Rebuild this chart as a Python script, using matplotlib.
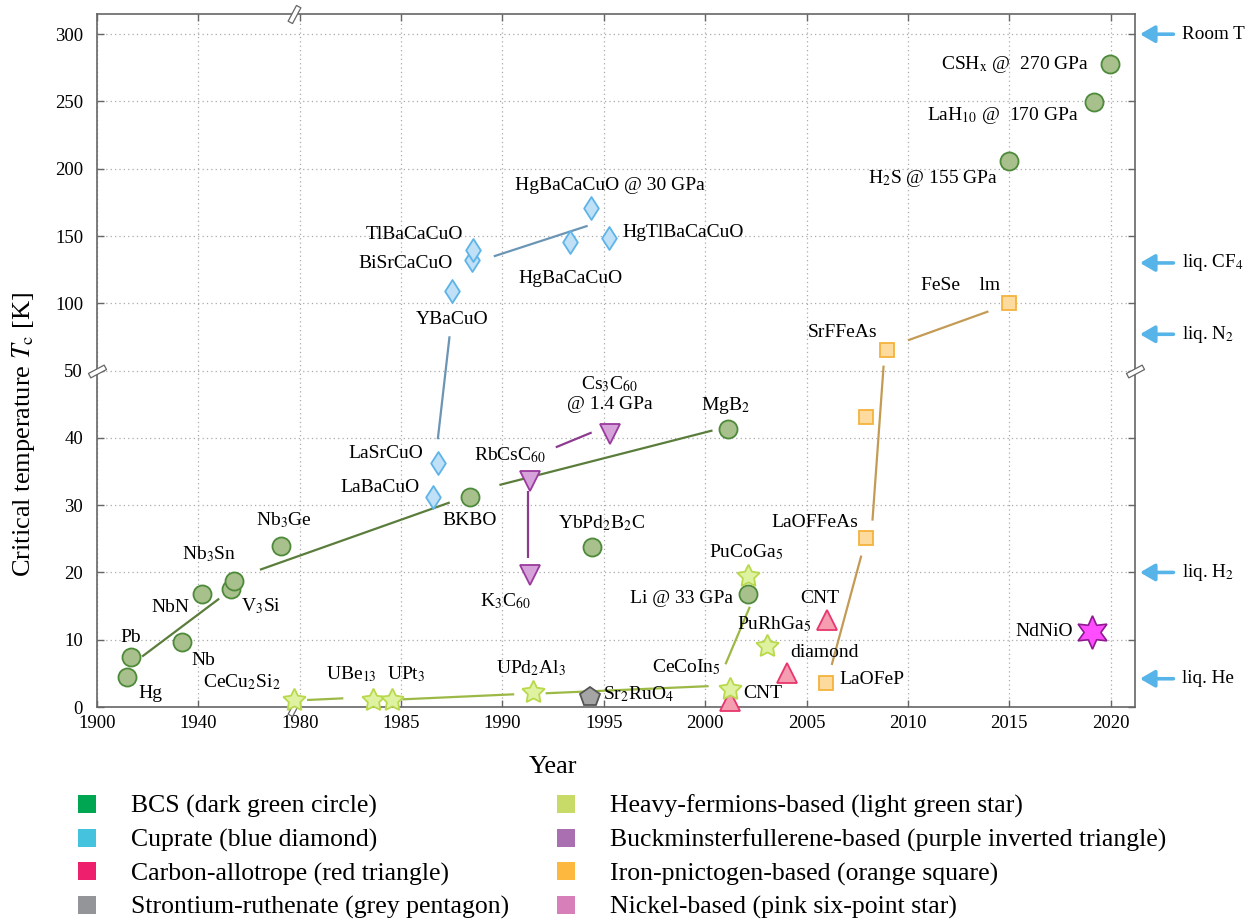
import numpy as np
import matplotlib
matplotlib.use('Agg')
import matplotlib.pyplot as plt
from matplotlib.patches import Patch
from matplotlib.path import Path
import matplotlib.transforms as mtransforms

plt.rcParams['font.family'] = ['Liberation Serif', 'DejaVu Serif']
plt.rcParams['mathtext.fontset'] = 'stix'

# ---------------- data ----------------
bcs_names = ['Hg', 'Pb', 'Nb', 'NbN', 'V$_3$Si', 'Nb$_3$Sn', 'Nb$_3$Ge', 'BKBO', 'MgB$_2$',
             'YbPd$_2$B$_2$C', 'Li @ 33 GPa', 'H$_2$S @ 155 GPa', 'LaH$_{10}$ @  170 GPa',
             'CSH$_\\mathrm{x}$ @  270 GPa']
bcs_year = [1911.9, 1913.3, 1933.4, 1941.6, 1952.8, 1954.0, 1972.5, 1988.4, 2001.1,
            1994.4, 2002.1, 2015.0, 2019.2, 2019.95]
bcs_tc = [4.5, 7.5, 9.7, 16.8, 17.6, 18.8, 23.9, 31.2, 41.3, 23.8, 16.8, 206, 249.5, 277.7]

cup_names = ['LaBaCuO', 'LaSrCuO', 'YBaCuO', 'BiSrCaCuO', 'TlBaCaCuO', 'HgBaCaCuO',
             'HgBaCaCuO @ 30 GPa', 'HgTlBaCaCuO']
cup_year = [1986.55, 1986.8, 1987.5, 1988.5, 1988.55, 1993.35, 1994.37, 1995.26]
cup_tc = [31.2, 36.2, 109, 132.4, 139.8, 145.2, 170.5, 148.5]

car_names = ['CNT', 'diamond', 'CNT']
car_year = [2001.2, 2004.05, 2006.0]
car_tc = [0.9, 5.1, 12.9]

sr_names = ['Sr$_2$RuO$_4$']
sr_year = [1994.33]
sr_tc = [1.5]

hf_names = ['CeCu$_2$Si$_2$', 'UBe$_{13}$', 'UPt$_3$', 'UPd$_2$Al$_3$', 'CeCoIn$_5$',
            'PuCoGa$_5$', 'PuRhGa$_5$']
hf_year = [1977.9, 1983.6, 1984.55, 1991.5, 2001.2, 2002.1, 2003.05]
hf_tc = [1.0, 1.0, 1.0, 2.2, 2.7, 19.5, 9.1]

ful_names = ['K$_3$C$_{60}$', 'RbCsC$_{60}$', 'Cs$_3$C$_{60}$\n@ 1.4 GPa']
ful_year = [1991.38, 1991.38, 1995.3]
ful_tc = [19.6, 33.6, 40.6]

fe_names = ['LaOFeP', 'LaOFFeAs', '', 'SrFFeAs', 'FeSe    lm']
fe_year = [2005.95, 2007.95, 2007.95, 2008.95, 2015.0]
fe_tc = [3.6, 25.1, 43.1, 65.6, 100.3]

ni_names = ['NdNiO']
ni_year = [2019.1]
ni_tc = [11.2]

# trend segments: (year0, tc0, year1, tc1)
bcs_trend = [(1917.8, 7.5, 1948.2, 16.1), (1964.3, 20.4, 1987.4, 30.4), (1989.85, 33.0, 2000.36, 41.1)]
cup_trend = [(1986.81, 39.8, 1987.39, 75.5), (1989.57, 134.9, 1994.2, 157.6)]
ful_trend = [(1991.28, 32.1, 1991.28, 22.1), (1992.63, 38.6, 1994.4, 40.8)]
hf_trend = [(1980.36, 1.04, 1982.15, 1.29), (1985.06, 1.14, 1990.58, 1.89),
            (1992.13, 2.04, 2000.17, 3.1), (2001.0, 6.35, 2002.2, 14.9)]
fe_trend = [(2006.24, 6.25, 2007.7, 22.5), (2008.25, 27.7, 2008.8, 53.7), (2010.0, 72.5, 2013.97, 94.0)]

ref_names = ['Room T', 'liq. CF$_4$', 'liq. N$_2$', 'liq. H$_2$', 'liq. He']
ref_tc = [300, 130, 77, 20, 4.2]

x_ticks = [1900, 1940, 1980, 1985, 1990, 1995, 2000, 2005, 2010, 2015, 2020]
y_ticks = [0, 10, 20, 30, 40, 50, 100, 150, 200, 250, 300]

legend_left = ['BCS (dark green circle)', 'Cuprate (blue diamond)',
               'Carbon-allotrope (red triangle)', 'Strontium-ruthenate (grey pentagon)']
legend_left_colors = ['#00a651', '#45c3de', '#ee1f6c', '#949599']
legend_right = ['Heavy-fermions-based (light green star)',
                'Buckminsterfullerene-based (purple inverted triangle)',
                'Iron-pnictogen-based (orange square)', 'Nickel-based (pink six-point star)']
legend_right_colors = ['#c8da68', '#a96fb0', '#fdb93f', '#d67fb9']

# label offsets in pixels (right, down)
bcs_off = [(23, 17), (0, -19), (22, 19), (-32, 14), (30, 18), (-25, -26), (3, -26), (0, 23),
           (-2, -24), (10, -24), (-66, 5), (-76, 18), (-92, 13), (-95, 0)]
cup_off = [(-53, -10), (-52, -10), (0, 28), (-67, 4), (-59, -15), (0, 36), (19, -23), (74, -6)]
car_off = [(33, -7), (37, -20), (-7, -22)]
sr_off = [(48, -3)]
hf_off = [(-53, -18), (-21, -26), (14, -26), (-2, -24), (-43, -22), (-2, -24), (7, -22)]
ful_off = [(-25, 26), (-20, -26), (0, -40)]
fe_off = [(46, -3), (-52, -16), (0, 0), (-44, -17), (-49, -17)]
ni_off = [(-48, 0)]

# ---------------- scales ----------------
def fx(x):
    x = np.asarray(x, dtype=float)
    return np.where(x < 1980, 1980 + (x - 1980) / 8.0, x)

def ix(u):
    u = np.asarray(u, dtype=float)
    return np.where(u < 1980, 1980 + (u - 1980) * 8.0, u)

def fy(y):
    y = np.asarray(y, dtype=float)
    return np.where(y > 50, 50 + (y - 50) / 5.0, y)

def iy(v):
    v = np.asarray(v, dtype=float)
    return np.where(v > 50, 50 + (v - 50) * 5.0, v)

fig = plt.figure(figsize=(12.49, 9.23), dpi=100)
ax = fig.add_axes([97 / 1249, 1 - 707 / 923, (1135 - 97) / 1249, (707 - 14) / 923])
ax.set_xscale('function', functions=(fx, ix))
ax.set_yscale('function', functions=(fy, iy))
ax.set_xlim(1900, 2021.2)
ax.set_ylim(0, 315)
ax.set_xticks(x_ticks)
ax.set_xticklabels([str(t) for t in x_ticks])
ax.set_yticks(y_ticks)
ax.set_yticklabels([str(t) for t in y_ticks])
ax.minorticks_off()
ax.grid(True, linestyle=(0, (1, 2.5)), color='#aaaaaa', linewidth=0.9)
ax.set_axisbelow(True)
for s in ax.spines.values():
    s.set_color('#666666')
    s.set_linewidth(1.2)
ax.tick_params(direction='in', length=5, width=1.0, color='#666666', top=True, right=True,
               labelsize=13.5)
ax.tick_params(axis='x', pad=6)
ax.tick_params(axis='y', pad=10)

# trend lines
def draw_trend(segs, color):
    for (x0, y0, x1, y1) in segs:
        ax.plot([x0, x1], [y0, y1], color=color, lw=1.6, solid_capstyle='butt', zorder=2)

draw_trend(bcs_trend, '#5b7d3c')
draw_trend(cup_trend, '#6b95b5')
draw_trend(ful_trend, '#8c3b8e')
draw_trend(hf_trend, '#9cb945')
draw_trend(fe_trend, '#c39b55')

hexagram = (6, 1, 0)
fat_star = (5, 1, 0)
wide_diamond = Path([(0, 1), (0.64, 0), (0, -1), (-0.64, 0), (0, 1)],
                    [Path.MOVETO, Path.LINETO, Path.LINETO, Path.LINETO, Path.CLOSEPOLY])

def draw_series(years, tcs, names, offs, marker, ms, fc, ec, mew=1.3):
    ax.plot(years, tcs, linestyle='none', marker=marker, ms=ms, mfc=fc, mec=ec, mew=mew,
            zorder=4, clip_on=False)
    for x, y, n, (dx, dy) in zip(years, tcs, names, offs):
        if n:
            ax.annotate(n, (x, y), xytext=(dx, -dy), textcoords='offset pixels',
                        ha='center', va='center', fontsize=14, zorder=5,
                        multialignment='center')

draw_series(bcs_year, bcs_tc, bcs_names, bcs_off, 'o', 13, '#a8c08b', '#4d8a3a')
draw_series(cup_year, cup_tc, cup_names, cup_off, wide_diamond, 16.5, '#bfe0f6', '#5db4e8')
draw_series(car_year, car_tc, car_names, car_off, '^', 14, '#f59db1', '#e8366c')
draw_series(sr_year, sr_tc, sr_names, sr_off, 'p', 14.5, '#a5a5a5', '#555555')
draw_series(hf_year, hf_tc, hf_names, hf_off, fat_star, 17, '#dff2a2', '#b9d94c')
draw_series(ful_year, ful_tc, ful_names, ful_off, 'v', 14, '#d5a3da', '#9b3a9e')
draw_series(fe_year, fe_tc, fe_names, fe_off, 's', 10.5, '#fddb9f', '#f5b33d')
draw_series(ni_year, ni_tc, ni_names, ni_off, hexagram, 24, '#ff4dff', '#8e1a8e', mew=1.2)

# reference temperature arrows on the right
rtrans = mtransforms.blended_transform_factory(ax.transAxes, ax.transData)
for n, t in zip(ref_names, ref_tc):
    ax.annotate('', xy=(1.0048, t), xycoords=rtrans, xytext=(1.037, t), textcoords=rtrans,
                arrowprops=dict(arrowstyle='-|>,head_length=0.55,head_width=0.32',
                                color='#56b4e9', lw=2.6, mutation_scale=16,
                                shrinkA=0, shrinkB=0))
    ax.text(1.0453, t, n, transform=rtrans, ha='left', va='center', fontsize=13.8,
            clip_on=False)

# axis break markers
def rect_marker(angle):
    v = np.array([[-1, -0.28], [1, -0.28], [1, 0.28], [-1, 0.28], [-1, -0.28]])
    a = np.deg2rad(angle)
    R = np.array([[np.cos(a), -np.sin(a)], [np.sin(a), np.cos(a)]])
    v = v @ R.T
    return Path(v, [Path.MOVETO, Path.LINETO, Path.LINETO, Path.LINETO, Path.CLOSEPOLY])

ybreak = mtransforms.blended_transform_factory(ax.transAxes, ax.transData)
ax.plot([0, 1], [50, 50], transform=ybreak, linestyle='none', marker=rect_marker(28), ms=13,
        mfc='white', mec='#666666', mew=0.9, clip_on=False, zorder=6)
xbreak = mtransforms.blended_transform_factory(ax.transData, ax.transAxes)
ax.plot([1977.6, 1977.6], [0, 1], transform=xbreak, linestyle='none', marker=rect_marker(62),
        ms=13, mfc='white', mec='#666666', mew=0.9, clip_on=False, zorder=3)

ax.set_xlabel('Year', fontsize=19)
ax.xaxis.set_label_coords(0.439, -0.071)
ax.set_ylabel('Critical temperature $T_\\mathrm{c}$ [K]', fontsize=19)
ax.yaxis.set_label_coords(-0.058, 0.394)

# legends
hl = [Patch(facecolor=c, edgecolor='none') for c in legend_left_colors]
hr = [Patch(facecolor=c, edgecolor='none') for c in legend_right_colors]
kw = dict(frameon=False, fontsize=18.5, handlelength=0.7, handleheight=0.7,
          handletextpad=1.35, labelspacing=0.40, borderpad=0, borderaxespad=0,
          loc='upper left')
fig.legend(hl, legend_left, bbox_to_anchor=(78 / 1249, 1 - 795 / 923), **kw)
fig.legend(hr, legend_right, bbox_to_anchor=(557 / 1249, 1 - 795 / 923), **kw)

fig.savefig('out.png', dpi=100)
